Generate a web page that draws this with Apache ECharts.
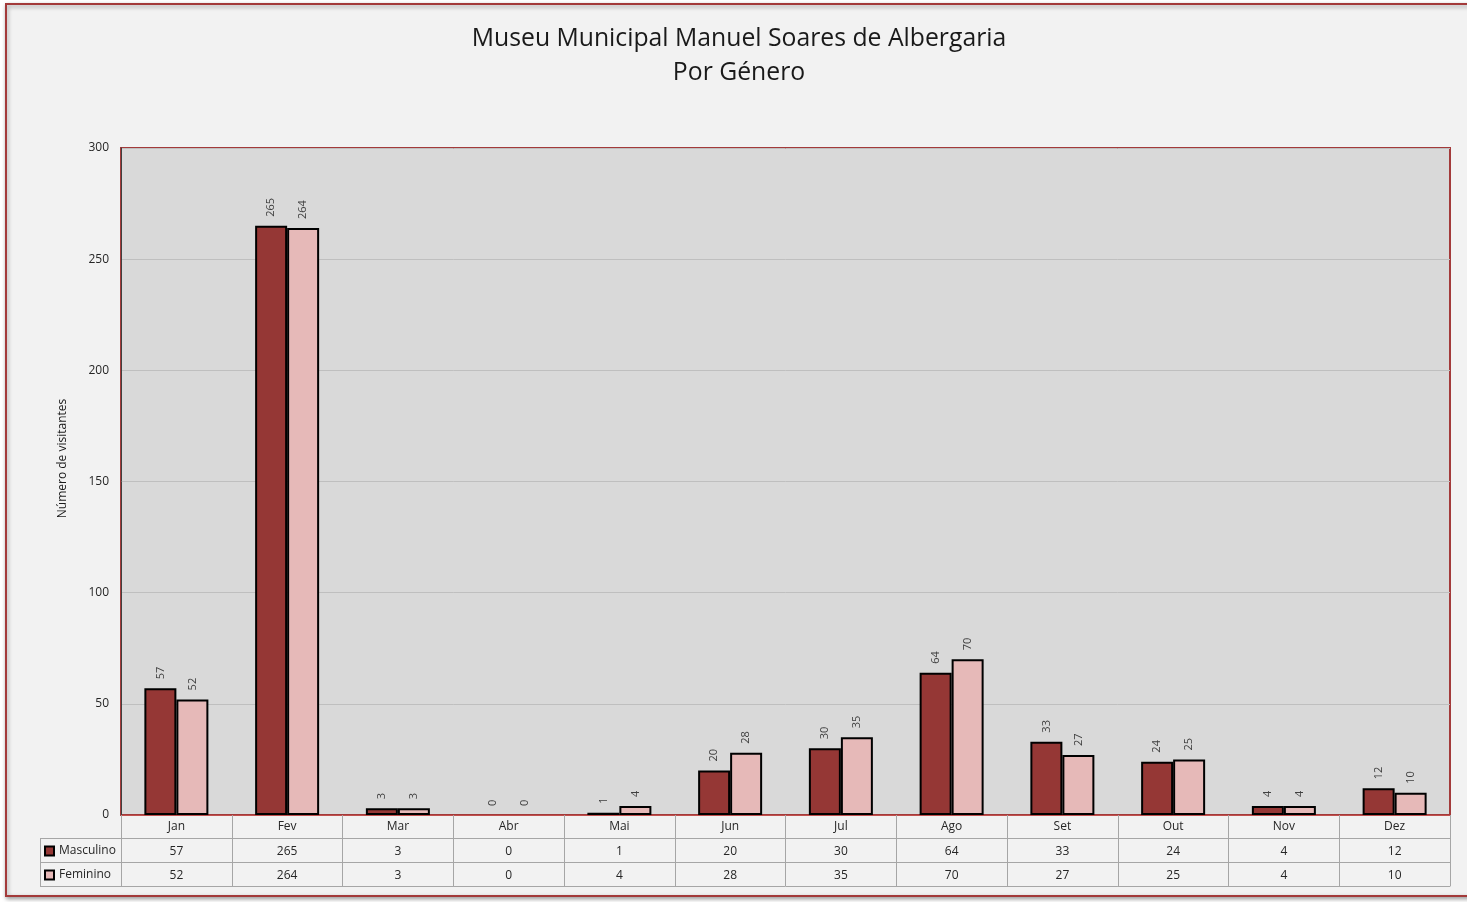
<!DOCTYPE html>
<html>
<head>
<meta charset="utf-8">
<script src="https://cdn.jsdelivr.net/npm/echarts@6/dist/echarts.min.js"></script>
<style>
  html, body { margin: 0; padding: 0; background: #ffffff; }
  #chart { width: 1467px; height: 902px; }
</style>
</head>
<body>
<div id="chart"></div>
<script>
// dados
var meses = ['Jan', 'Fev', 'Mar', 'Abr', 'Mai', 'Jun', 'Jul', 'Ago', 'Set', 'Out', 'Nov', 'Dez'];
var masculino = [57, 265, 3, 0, 1, 20, 30, 64, 33, 24, 4, 12];
var feminino = [52, 264, 3, 0, 4, 28, 35, 70, 27, 25, 4, 10];
var yTicks = [0, 50, 100, 150, 200, 250, 300];

var corMasc = '#953735';
var corFem = '#e6b9b8';
var corTabela = '#a6a6a6';
var fonte = '"Open Sans", "DejaVu Sans", sans-serif';

var myChart = echarts.init(document.getElementById('chart'));

// eixo extra usado como linha da tabela de dados
function linhaTabela(valores, offset, mostraTick) {
  return {
    type: 'category',
    position: 'bottom',
    offset: offset,
    data: valores.map(String),
    axisLine: { show: true, lineStyle: { color: corTabela, width: 1 } },
    axisTick: { show: mostraTick, length: 24, lineStyle: { color: corTabela } },
    axisLabel: { show: mostraTick, color: '#262626', fontSize: 12, fontFamily: fonte, margin: 8 },
    splitLine: { show: false }
  };
}

// barras com valor zero ficam sem contorno
function barras(valores) {
  return valores.map(function (v) {
    return v === 0 ? { value: 0, itemStyle: { borderWidth: 0 } } : v;
  });
}

var rotulo = {
  show: true,
  position: 'top',
  rotate: 90,
  align: 'left',
  verticalAlign: 'middle',
  distance: 9,
  color: '#404040',
  fontSize: 11,
  fontFamily: fonte
};

myChart.setOption({
  backgroundColor: '#ffffff',
  animation: false,
  title: {
    text: 'Museu Municipal Manuel Soares de Albergaria\nPor Género',
    left: 734,
    textAlign: 'center',
    top: 17,
    textStyle: { fontFamily: fonte, fontSize: 24.75, fontWeight: 'normal', color: '#1a1a1a', lineHeight: 34 }
  },
  legend: {
    orient: 'vertical',
    left: 44,
    top: 845,
    padding: 0,
    itemWidth: 9,
    itemHeight: 9,
    itemGap: 12,
    icon: 'rect',
    data: ['Masculino', 'Feminino'],
    textStyle: { fontFamily: fonte, fontSize: 12, color: '#262626' }
  },
  graphic: [
    {
      type: 'rect',
      z: -1,
      shape: { x: 6, y: 4, width: 1480, height: 892 },
      style: { fill: '#f2f2f2', stroke: '#a33a3a', lineWidth: 2, shadowBlur: 4, shadowColor: 'rgba(0,0,0,0.35)', shadowOffsetX: 1, shadowOffsetY: 2 }
    },
    { type: 'line', shape: { x1: 40, y1: 838.5, x2: 121, y2: 838.5 }, style: { stroke: corTabela, lineWidth: 1 } },
    { type: 'line', shape: { x1: 40, y1: 862.5, x2: 121, y2: 862.5 }, style: { stroke: corTabela, lineWidth: 1 } },
    { type: 'line', shape: { x1: 40, y1: 886.5, x2: 121, y2: 886.5 }, style: { stroke: corTabela, lineWidth: 1 } },
    { type: 'line', shape: { x1: 40.5, y1: 838, x2: 40.5, y2: 886 }, style: { stroke: corTabela, lineWidth: 1 } }
  ],
  grid: {
    left: 121,
    right: 17,
    top: 148,
    bottom: 87,
    show: true,
    backgroundColor: '#d9d9d9',
    borderColor: '#a33a3a',
    borderWidth: 2
  },
  xAxis: [
    {
      type: 'category',
      data: meses,
      axisLine: { show: true, lineStyle: { color: '#c0504d', width: 1 } },
      axisTick: { show: true, length: 23, lineStyle: { color: corTabela } },
      axisLabel: { color: '#262626', fontSize: 12, fontFamily: fonte, margin: 6 },
      splitLine: { show: false }
    },
    linhaTabela(masculino, 23, true),
    linhaTabela(feminino, 47, true),
    linhaTabela(feminino, 71, false)
  ],
  yAxis: {
    type: 'value',
    min: 0,
    max: yTicks[yTicks.length - 1],
    interval: yTicks[1] - yTicks[0],
    name: 'Número de visitantes',
    nameLocation: 'middle',
    nameGap: 52,
    nameTextStyle: { fontFamily: fonte, fontSize: 12, color: '#1a1a1a', padding: [0, 0, 0, 46] },
    axisLine: { show: true, lineStyle: { color: '#404040', width: 1 } },
    axisTick: { show: false },
    axisLabel: { color: '#262626', fontSize: 12, fontFamily: fonte, margin: 12 },
    splitLine: { show: true, lineStyle: { color: '#bfbfbf', width: 1 } }
  },
  series: [
    {
      name: 'Masculino',
      type: 'bar',
      data: barras(masculino),
      barWidth: 32,
      barGap: '0%',
      itemStyle: { color: corMasc, borderColor: '#000000', borderWidth: 2 },
      label: rotulo
    },
    {
      name: 'Feminino',
      type: 'bar',
      data: barras(feminino),
      barWidth: 32,
      barGap: '0%',
      itemStyle: { color: corFem, borderColor: '#000000', borderWidth: 2 },
      label: rotulo
    }
  ]
});
</script>
</body>
</html>
